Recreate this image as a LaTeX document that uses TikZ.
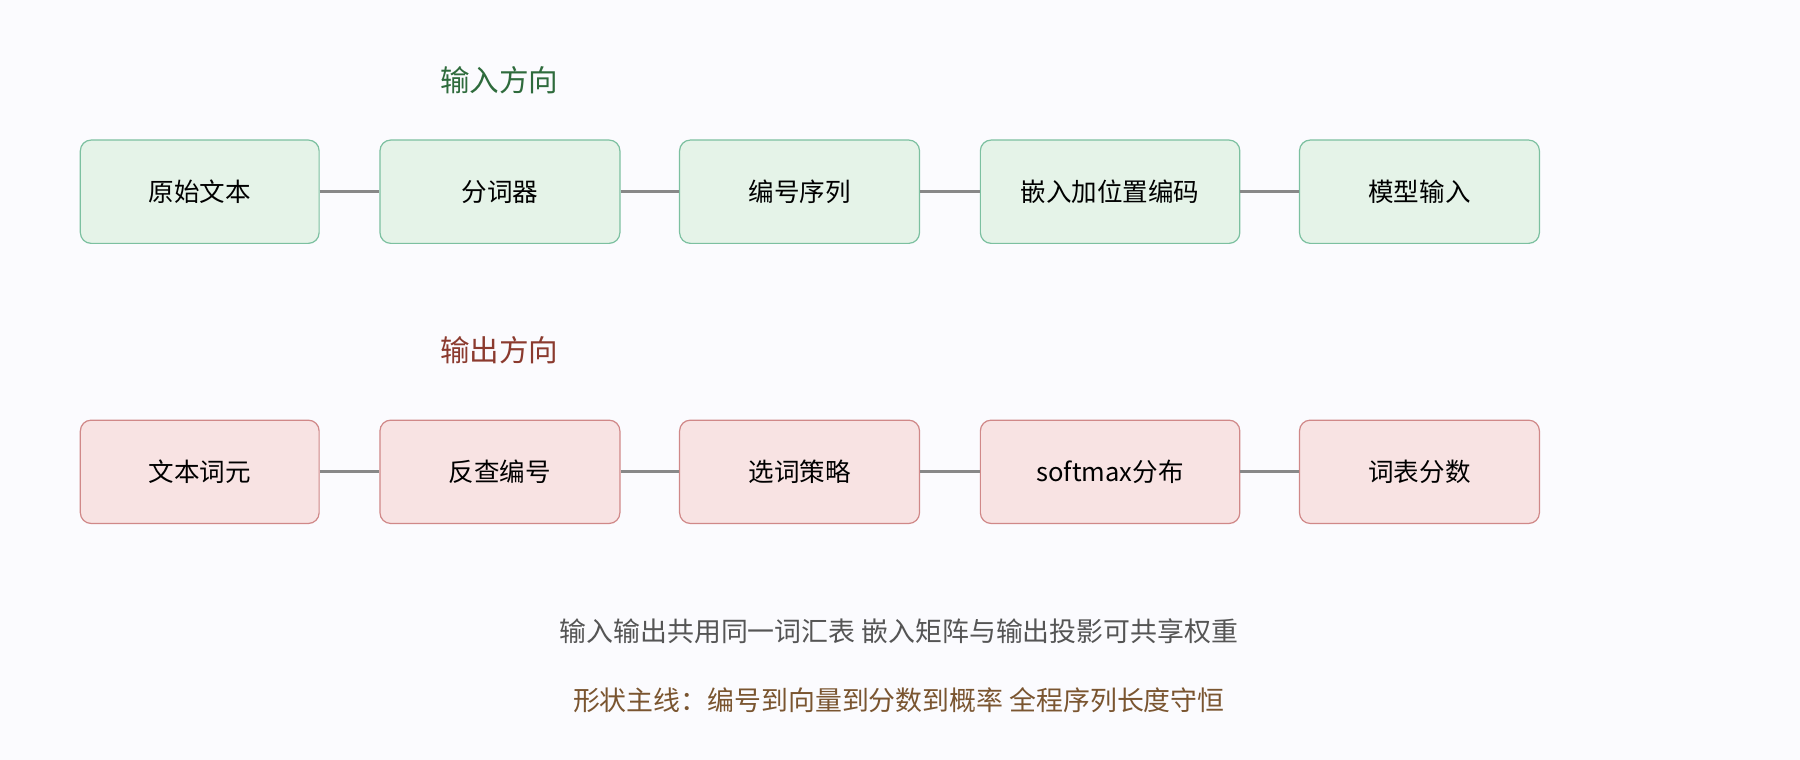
\documentclass[tikz,border=0pt]{standalone}
\usepackage{fontspec}
\setmainfont{Noto Sans CJK SC}
\usetikzlibrary{positioning}
\definecolor{bgcol}{HTML}{FBFBFE}
\definecolor{infill}{HTML}{E5F3E8}
\definecolor{indraw}{HTML}{7CC0A0}
\definecolor{outfill}{HTML}{F8E3E3}
\definecolor{outdraw}{HTML}{D08888}
\definecolor{intitle}{HTML}{2E6B3C}
\definecolor{outtitle}{HTML}{8B3A2E}
\definecolor{notegray}{HTML}{555555}
\definecolor{notebrown}{HTML}{7A5530}
\definecolor{linkcol}{HTML}{888888}
\begin{document}
\begin{tikzpicture}[x=0.03cm, y=-0.03cm]
  \tikzstyle{box} = [rectangle, draw, rounded corners=8pt, line width=0.9pt,
    minimum height=2.7cm, font=\fontsize{19}{23}\selectfont]
  \tikzstyle{inbox} = [box, fill=infill, draw=indraw]
  \tikzstyle{outbox} = [box, fill=outfill, draw=outdraw]
  \tikzstyle{title} = [font=\fontsize{22}{26}\selectfont]
  \tikzstyle{note} = [font=\fontsize{20}{24}\selectfont]
  \tikzstyle{link} = [draw=linkcol, line width=2.2pt]

  \fill [bgcol] (0,0) rectangle (1568,662);

  % Input row
  \node [title, text=intitle] (intitle) at (435,70) {输入方向};
  \node [inbox, minimum width=6.24cm] (raw) at (174,167) {原始文本};
  \node [inbox, minimum width=6.27cm] (tok) at (435.5,167) {分词器};
  \node [inbox, minimum width=6.27cm] (ids) at (696.5,167) {编号序列};
  \node [inbox, minimum width=6.78cm] (emb) at (967,167) {嵌入加位置编码};
  \node [inbox, minimum width=6.27cm] (model) at (1236.5,167) {模型输入};

  % Output row
  \node [title, text=outtitle] (outtitle) at (435,305) {输出方向};
  \node [outbox, minimum width=6.24cm] (words) at (174,411) {文本词元};
  \node [outbox, minimum width=6.27cm] (lookup) at (435.5,411) {反查编号};
  \node [outbox, minimum width=6.27cm] (pick) at (696.5,411) {选词策略};
  \node [outbox, minimum width=6.78cm] (soft) at (967,411) {softmax分布};
  \node [outbox, minimum width=6.27cm] (scores) at (1236.5,411) {词表分数};

  % Notes
  \node [note, text=notegray] (share) at (783,550) {输入输出共用同一词汇表 嵌入矩阵与输出投影可共享权重};
  \node [note, text=notebrown] (shape) at (783,610) {形状主线：编号到向量到分数到概率 全程序列长度守恒};

  % Draw edges
  \path [link] (raw) -- (tok);
  \path [link] (tok) -- (ids);
  \path [link] (ids) -- (emb);
  \path [link] (emb) -- (model);
  \path [link] (words) -- (lookup);
  \path [link] (lookup) -- (pick);
  \path [link] (pick) -- (soft);
  \path [link] (soft) -- (scores);
\end{tikzpicture}
\end{document}
